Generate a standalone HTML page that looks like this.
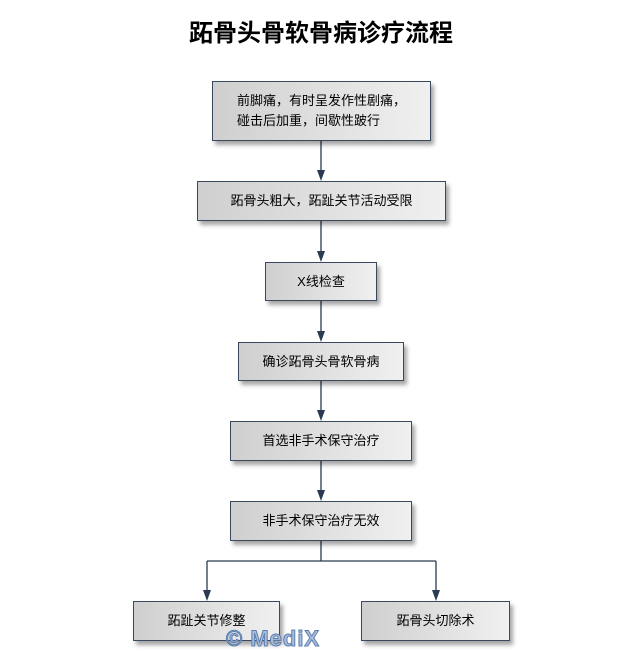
<!DOCTYPE html><html><head><meta charset="utf-8"><style>
body{margin:0;width:642px;height:650px;background:#fff;position:relative;overflow:hidden;font-family:"Liberation Sans","Noto Sans CJK SC",sans-serif}
.t{position:absolute;left:0;width:642px;top:14px;text-align:center;font-size:24px;font-weight:bold;font-family:"Noto Sans CJK SC",sans-serif;color:#000;line-height:34px}
.b{position:absolute;box-sizing:border-box;border:1px solid #3a4a5e;background:linear-gradient(to right,#cfcfcf,#f0f0f0);box-shadow:3px 4px 4px rgba(0,0,0,.35);display:flex;align-items:center;justify-content:center;text-align:left;font-size:13px;line-height:20px;color:#000}
svg{position:absolute;left:0;top:0}
.w{position:absolute;left:226px;top:626px;font-size:22px;font-weight:bold;color:#a9bddb;-webkit-text-stroke:1px #5d7fb0;letter-spacing:1px}
</style></head><body>
<div class="t">跖骨头骨软骨病诊疗流程</div>
<svg width="642" height="650"><g stroke="#2a3b52" stroke-width="1.3" fill="none">
<path d="M321 141V172M321 221V253M321 301V333M321 381V412M321 461V492M321 541V561M207 561H436M207 561V592M436 561V592"/></g>
<g fill="#2a3b52"><path d="M317 170h8l-4 11z"/><path d="M317 251h8l-4 11z"/><path d="M317 331h8l-4 11z"/><path d="M317 410h8l-4 11z"/><path d="M317 490h8l-4 11z"/><path d="M203 590h8l-4 11z"/><path d="M432 590h8l-4 11z"/></g></svg>
<div class="b" style="left:212px;top:81px;width:219px;height:60px">前脚痛，有时呈发作性剧痛，<br>碰击后加重，间歇性跛行</div>
<div class="b" style="left:197px;top:181px;width:249px;height:40px">跖骨头粗大，跖趾关节活动受限</div>
<div class="b" style="left:265px;top:262px;width:112px;height:39px">X线检查</div>
<div class="b" style="left:238px;top:342px;width:166px;height:39px">确诊跖骨头骨软骨病</div>
<div class="b" style="left:230px;top:421px;width:182px;height:40px">首选非手术保守治疗</div>
<div class="b" style="left:230px;top:501px;width:182px;height:40px">非手术保守治疗无效</div>
<div class="b" style="left:133px;top:601px;width:147px;height:40px">跖趾关节修整</div>
<div class="b" style="left:361px;top:601px;width:149px;height:40px">跖骨头切除术</div>
<div class="w">© MediX</div>
</body></html>
